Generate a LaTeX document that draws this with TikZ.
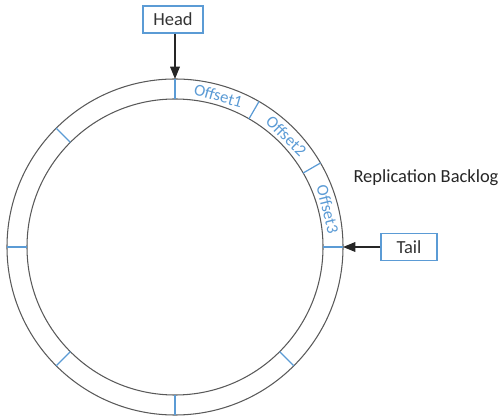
\documentclass[tikz,border=0pt]{standalone}
\usepackage{fontspec}
\setmainfont{Carlito}
\usetikzlibrary{arrows.meta, positioning}
\definecolor{ringblue}{RGB}{91,155,213}

\begin{document}
\begin{tikzpicture}[
  ringline/.style={draw=black!65, line width=0.6pt},
  slotline/.style={draw=ringblue, line width=0.7pt},
  tagbox/.style={draw=ringblue, line width=0.6pt, minimum width=1.2cm,
                 minimum height=0.54cm, inner sep=0pt, text=black!80,
                 font=\fontsize{10.5}{12}\selectfont},
  pointer/.style={-{Triangle[length=7pt,width=5.5pt]}, line width=0.7pt, black!85}
]
  \useasboundingbox (-3.5,-3.44) rectangle (6.5,4.94);
  % the circular buffer: two rings split into slots
  \draw[ringline] (0,0) circle (3.36);
  \draw[ringline] (0,0) circle (2.96);
  \foreach \deg in {0,30,60,90,135,180,225,270,315}{
    \draw[slotline] (\deg:2.96) -- (\deg:3.36);
  }
  % slot names follow the ring
  \foreach \deg/\lbl in {74/Offset1, 45/Offset2, 14/Offset3}{
    \node[text=ringblue, font=\fontsize{9.5}{10}\selectfont, inner sep=0pt,
          rotate=\deg-90] (slot\lbl) at (\deg:3.15) {\lbl};
  }
  \coordinate (headpt) at (90:3.36);
  \coordinate (tailpt) at (0:3.36);

  % pointers into the buffer
  \node[tagbox] (head) at (-0.04,4.55) {Head};
  \node[tagbox, minimum width=1.12cm] (tail) at (4.68,0) {Tail};
  \draw[pointer] (head.south -| headpt) -- (headpt);
  \draw[pointer] (tail.west) -- (tailpt);

  \node[text=black!85, font=\fontsize{10.5}{12}\selectfont] (backlog) at (5.02,1.38)
    {Replication Backlog};
\end{tikzpicture}
\end{document}
